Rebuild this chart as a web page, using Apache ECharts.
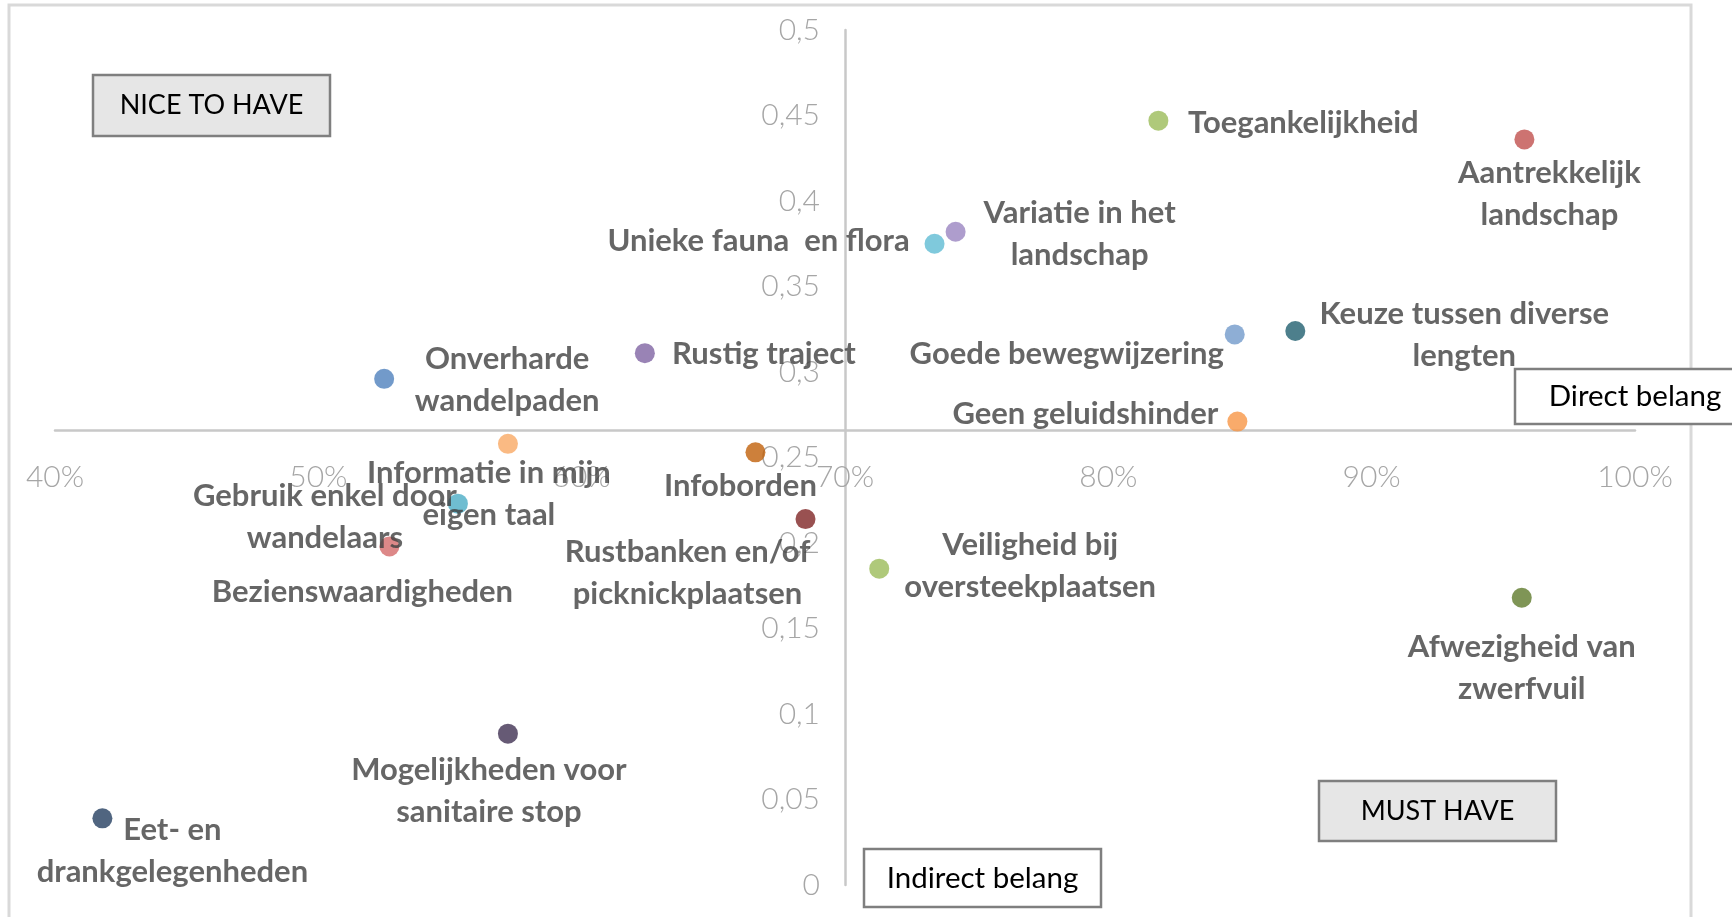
<!DOCTYPE html>
<html>
<head>
<meta charset="utf-8">
<script src="https://cdn.jsdelivr.net/npm/echarts@6/dist/echarts.min.js"></script>
<style>
html,body{margin:0;padding:0;background:#fff;}
#chart{width:1732px;height:917px;}
</style>
</head>
<body>
<div id="chart"></div>
<script>
// ---- data ----
const categories = [
  'Toegankelijkheid',
  'Aantrekkelijk\nlandschap',
  'Variatie in het\nlandschap',
  'Unieke fauna  en flora',
  'Goede bewegwijzering',
  'Keuze tussen diverse\nlengten',
  'Geen geluidshinder',
  'Rustig traject',
  'Onverharde\nwandelpaden',
  'Informatie in mijn\neigen taal',
  'Infoborden',
  'Gebruik enkel door\nwandelaars',
  'Bezienswaardigheden',
  'Rustbanken en/of\npicknickplaatsen',
  'Veiligheid bij\noversteekplaatsen',
  'Afwezigheid van\nzwerfvuil',
  'Mogelijkheden voor\nsanitaire stop',
  'Eet- en\ndrankgelegenheden'
];
const directShare = [0.819, 0.958, 0.742, 0.734, 0.848, 0.871, 0.849, 0.624, 0.525, 0.572, 0.666, 0.553, 0.527, 0.685, 0.713, 0.957, 0.572, 0.418];
const indirectValue = [0.447, 0.436, 0.382, 0.375, 0.322, 0.324, 0.271, 0.311, 0.296, 0.258, 0.253, 0.223, 0.198, 0.214, 0.185, 0.168, 0.0885, 0.039];
const xTicks = [0.4, 0.5, 0.6, 0.7, 0.8, 0.9, 1.0];
const yTicks = [0, 0.05, 0.1, 0.15, 0.2, 0.25, 0.3, 0.35, 0.4, 0.45, 0.5];
const xCross = 0.7;    // vertical axis crosses at 70%
const yCross = 0.266;  // horizontal axis crosses here
const quadrantTexts = ['NICE TO HAVE', 'MUST HAVE', 'Indirect belang', 'Direct belang'];

// ---- styles ----
const pointColors = ['#9bbb59','#c0504d','#9a84c0','#5fbcd3','#729aca','#215f6f','#f79646','#8064a2','#4f81bd','#f9a964','#c0600a','#4bacc6','#d46a6a','#7f2626','#9bbb59','#5f7a2c','#403152','#243f60'];
const labelOffsets = [[145,2],[25,55],[124,2],[-176,-3],[-168,20],[169,4],[-152,-8],[119,1],[123,1],[-19,50],[-15,34],[-133,13],[-27,46],[-118,54],[151,-3],[0,70],[-19,57],[70,33]];

const W = 1732, H = 917;
const grid = {left: 55, right: 97, top: 30, bottom: 32};
const gw = W - grid.left - grid.right, gh = H - grid.top - grid.bottom;
const xMin = xTicks[0], xMax = xTicks[xTicks.length-1];
const yMin = yTicks[0], yMax = yTicks[yTicks.length-1];
const xOffset = -((yCross - yMin) / (yMax - yMin)) * gh;
const yOffset = -((xCross - xMin) / (xMax - xMin)) * gw;

const FONT = 'Lato';
const data = categories.map((c, i) => ({
  name: c,
  value: [directShare[i], indirectValue[i]],
  itemStyle: {color: pointColors[i]},
  label: {offset: labelOffsets[i]}
}));

function box(x, y, w, h, text, fill, stroke, fs) {
  return {
    type: 'group', z: 100,
    children: [
      {type: 'rect', shape: {x: x, y: y, width: w, height: h},
       style: {fill: fill, stroke: stroke, lineWidth: 2.5}},
      {type: 'text', x: x + w / 2, y: y + h / 2,
       style: {text: text, fill: '#000', fontSize: fs, fontFamily: FONT,
               align: 'center', verticalAlign: 'middle'}}
    ]
  };
}

const chart = echarts.init(document.getElementById('chart'), null, {renderer: 'canvas'});
chart.setOption({
  animation: false,
  backgroundColor: '#fff',
  grid: grid,
  xAxis: {
    type: 'value', min: xMin, max: xMax, interval: 0.1,
    position: 'bottom', offset: xOffset,
    axisLine: {show: true, onZero: false, lineStyle: {color: '#c8c8c8', width: 2.5}},
    axisTick: {show: false},
    splitLine: {show: false},
    axisLabel: {
      margin: 32, color: '#a6a6a6', fontSize: 30, fontFamily: FONT, fontWeight: 300,
      formatter: v => Math.round(v * 100) + '%'
    }
  },
  yAxis: {
    type: 'value', min: yMin, max: yMax, interval: 0.05,
    position: 'left', offset: yOffset,
    axisLine: {show: true, onZero: false, lineStyle: {color: '#c8c8c8', width: 2.5}},
    axisTick: {show: false},
    splitLine: {show: false},
    axisLabel: {
      margin: 25, color: '#a6a6a6', fontSize: 30, fontFamily: FONT, fontWeight: 300,
      formatter: v => String(+v.toFixed(2)).replace('.', ',')
    }
  },
  series: [{
    type: 'scatter',
    symbolSize: 20,
    data: data,
    z: 5,
    label: {
      show: true, position: 'inside',
      formatter: p => p.name,
      color: '#404040', fontFamily: FONT, fontWeight: 'bold', fontSize: 31,
      lineHeight: 42, align: 'center', verticalAlign: 'middle'
    },
    emphasis: {disabled: true}
  }],
  graphic: [
    {type: 'rect', z: -1, silent: true, shape: {x: 9, y: 5, width: 1682, height: 940}, style: {fill: 'none', stroke: '#d9d9d9', lineWidth: 3}},
    box(93, 75, 237, 61, quadrantTexts[0], '#e6e6e6', '#7f7f7f', 27),
    box(1319, 781, 237, 60, quadrantTexts[1], '#e6e6e6', '#7f7f7f', 27),
    box(864, 849, 237, 58, quadrantTexts[2], '#fff', '#7f7f7f', 29.5),
    box(1515, 369, 240, 55, quadrantTexts[3], '#fff', '#7f7f7f', 29.5)
  ]
});
</script>
</body>
</html>
